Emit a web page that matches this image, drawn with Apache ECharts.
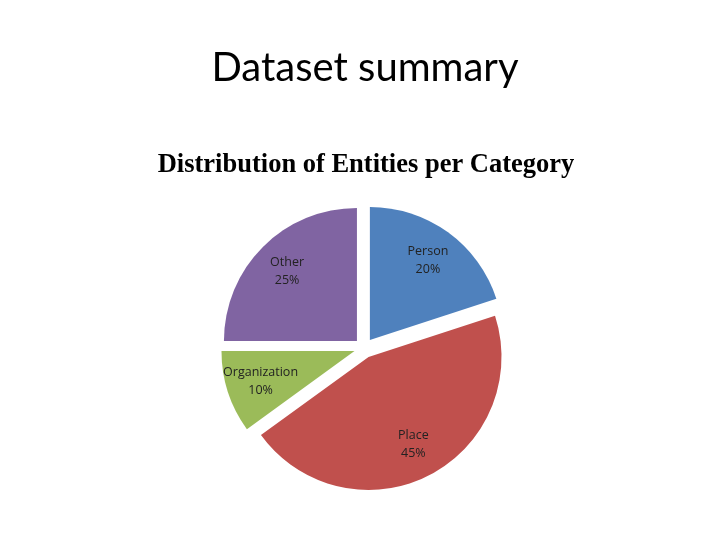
<!DOCTYPE html>
<html><head><meta charset="utf-8">
<script src="https://cdn.jsdelivr.net/npm/echarts@6/dist/echarts.min.js"></script>
<style>html,body{margin:0;padding:0;background:#fff}#c{width:720px;height:540px}</style>
</head><body><div id="c"></div>
<script>
const categories = ['Person', 'Place', 'Organization', 'Other'];
const values = [20, 45, 10, 25];
const colors = ['#4F81BD', '#C0504D', '#9BBB59', '#8064A2'];

const chart = echarts.init(document.getElementById('c'), null, {renderer: 'canvas'});
const center = [364, 348];
const R = 133;
const off = 10;
const mkData = (transparent) => categories.map((n, i) => ({
  name: n, value: values[i], selected: true,
  itemStyle: {color: transparent ? 'rgba(0,0,0,0)' : colors[i]}
}));
chart.setOption({
  animation: false,
  title: [
    {text: 'Dataset summary', left: 360, top: 43, textAlign: 'center',
     textStyle: {fontFamily: 'Lato', fontSize: 40, fontWeight: 'normal', color: '#000'}},
    {text: 'Distribution of Entities per Category', left: 361, top: 147, textAlign: 'center',
     textStyle: {fontFamily: 'Liberation Serif', fontSize: 26.5, fontWeight: 'bold', color: '#000'}}
  ],
  series: [
    {type: 'pie', center: center, radius: [0, R], startAngle: 90, clockwise: true,
     selectedMode: 'multiple', selectedOffset: off, silent: true,
     label: {show: false}, labelLine: {show: false},
     emphasis: {disabled: true},
     data: mkData(false)},
    {type: 'pie', center: center, radius: [R * 0.44, R], startAngle: 90, clockwise: true,
     selectedMode: 'multiple', selectedOffset: off, silent: true,
     emphasis: {disabled: true},
     label: {show: true, position: 'inside', formatter: '{b}\n{d}%',
             fontFamily: 'Open Sans', fontSize: 12.5, lineHeight: 18, color: '#222'},
     labelLine: {show: false},
     data: mkData(true)}
  ]
});
</script></body></html>
